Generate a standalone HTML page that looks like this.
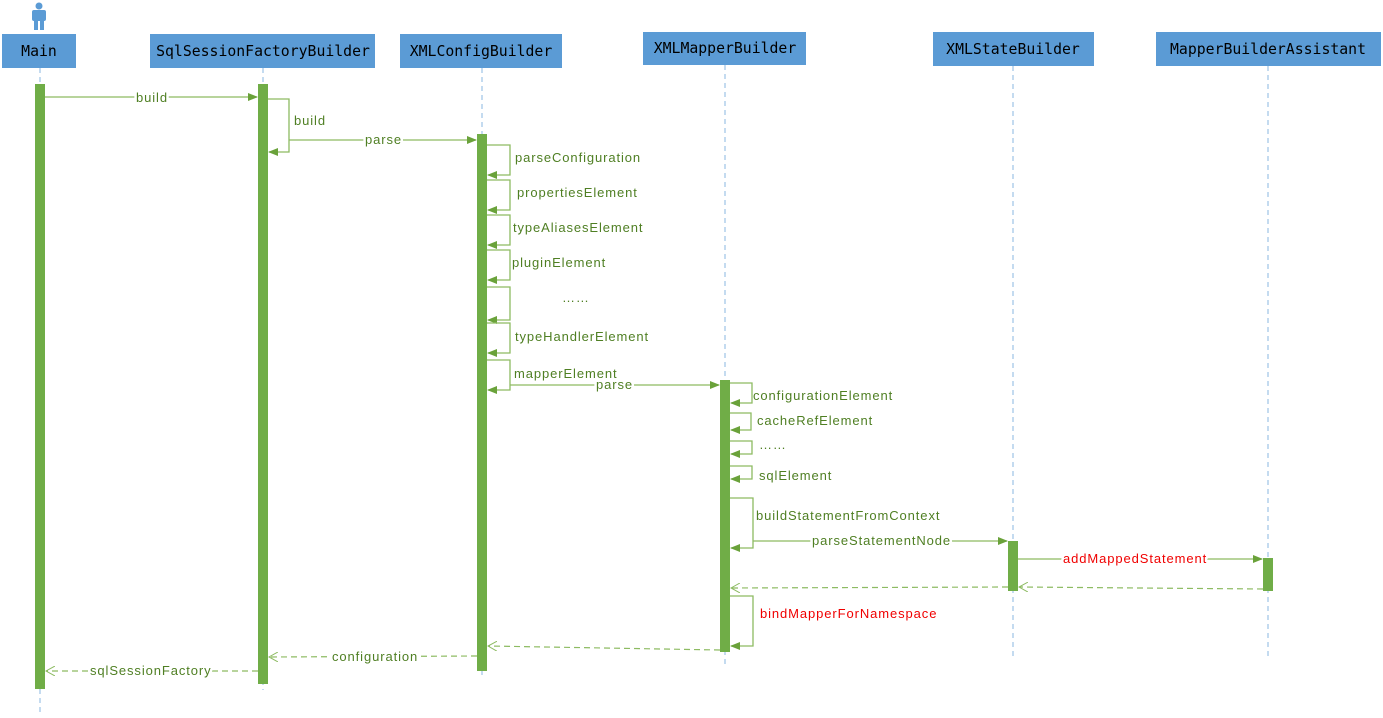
<!DOCTYPE html>
<html><head><meta charset="utf-8"><style>
html,body{margin:0;padding:0;background:#fff;}
svg{display:block;}
.h{font-family:"DejaVu Sans Mono","Liberation Mono",monospace;font-size:14.8px;fill:#000;}
.t{font-family:"Liberation Sans",sans-serif;font-size:13px;letter-spacing:0.9px;fill:#4f7f23;}
.r{font-family:"Liberation Sans",sans-serif;font-size:13px;letter-spacing:0.9px;fill:#f00000;}
.b{stroke:#fff;stroke-width:5px;paint-order:stroke;stroke-linejoin:round;}
</style></head><body>
<svg width="1383" height="718" viewBox="0 0 1383 718" xmlns="http://www.w3.org/2000/svg">
<defs>
<marker id="a" markerWidth="10" markerHeight="8" refX="9" refY="4" orient="auto" markerUnits="userSpaceOnUse"><path d="M0,0 L10,4 L0,8 z" fill="#6aa23a"/></marker>
<marker id="o" markerWidth="10" markerHeight="10" refX="9" refY="5" orient="auto" markerUnits="userSpaceOnUse"><path d="M0,0 L9,5 L0,10" fill="none" stroke="#8dbb62" stroke-width="1"/></marker>
</defs>
<circle cx="39" cy="6" r="3.5" fill="#5b9bd5"/>
<rect x="32" y="10" width="14" height="11" rx="2" fill="#5b9bd5"/>
<rect x="34" y="18" width="4" height="12" fill="#5b9bd5"/>
<rect x="40" y="18" width="4" height="12" fill="#5b9bd5"/>
<g fill="#5b9bd5">
<rect x="2" y="34" width="74" height="34"/>
<rect x="150" y="34" width="225" height="34"/>
<rect x="400" y="34" width="162" height="34"/>
<rect x="643" y="32" width="163" height="33"/>
<rect x="933" y="32" width="161" height="34"/>
<rect x="1156" y="32" width="225" height="34"/>
</g>
<text class="h" x="39" y="56" text-anchor="middle">Main</text>
<text class="h" x="263" y="56" text-anchor="middle">SqlSessionFactoryBuilder</text>
<text class="h" x="481" y="56" text-anchor="middle">XMLConfigBuilder</text>
<text class="h" x="725" y="53" text-anchor="middle">XMLMapperBuilder</text>
<text class="h" x="1013" y="54" text-anchor="middle">XMLStateBuilder</text>
<text class="h" x="1268" y="54" text-anchor="middle">MapperBuilderAssistant</text>
<g stroke="#9dc3e6" stroke-width="1.2" stroke-dasharray="5,4">
<line x1="40" y1="68" x2="40" y2="716"/>
<line x1="263" y1="68" x2="263" y2="690"/>
<line x1="482" y1="68" x2="482" y2="675"/>
<line x1="725" y1="65" x2="725" y2="668"/>
<line x1="1013" y1="66" x2="1013" y2="660"/>
<line x1="1268" y1="66" x2="1268" y2="660"/>
</g>
<g fill="#70ad47">
<rect x="35" y="84" width="10" height="605"/>
<rect x="258" y="84" width="10" height="600"/>
<rect x="477" y="134" width="10" height="537"/>
<rect x="720" y="380" width="10" height="272"/>
<rect x="1008" y="541" width="10" height="50"/>
<rect x="1263" y="558" width="10" height="33"/>
</g>
<g fill="none" stroke="#8dbb62" stroke-width="1.3">
<line x1="45" y1="97" x2="257" y2="97" marker-end="url(#a)"/>
<polyline points="268,99 289,99 289,152 269,152" marker-end="url(#a)"/>
<line x1="289" y1="140" x2="476" y2="140" marker-end="url(#a)"/>
<polyline points="487,145 510,145 510,175 488,175" marker-end="url(#a)"/>
<polyline points="487,180 510,180 510,210 488,210" marker-end="url(#a)"/>
<polyline points="487,215 510,215 510,245 488,245" marker-end="url(#a)"/>
<polyline points="487,250 510,250 510,280 488,280" marker-end="url(#a)"/>
<polyline points="487,287 510,287 510,320 488,320" marker-end="url(#a)"/>
<polyline points="487,323 510,323 510,353 488,353" marker-end="url(#a)"/>
<polyline points="487,360 510,360 510,390 488,390" marker-end="url(#a)"/>
<line x1="510" y1="385" x2="719" y2="385" marker-end="url(#a)"/>
<polyline points="730,383 752,383 752,403 731,403" marker-end="url(#a)"/>
<polyline points="730,413 751,413 751,430 731,430" marker-end="url(#a)"/>
<polyline points="730,441 752,441 752,454 731,454" marker-end="url(#a)"/>
<polyline points="730,466 752,466 752,479 731,479" marker-end="url(#a)"/>
<polyline points="730,498 753,498 753,548 731,548" marker-end="url(#a)"/>
<line x1="753" y1="541" x2="1007" y2="541" marker-end="url(#a)"/>
<line x1="1018" y1="559" x2="1262" y2="559" marker-end="url(#a)"/>
<polyline points="730,596 753,596 753,646 731,646" marker-end="url(#a)"/>
</g>
<g fill="none" stroke="#8dbb62" stroke-width="1.2" stroke-dasharray="6,4">
<line x1="1263" y1="589" x2="1019" y2="587" marker-end="url(#o)"/>
<line x1="1008" y1="587" x2="731" y2="588" marker-end="url(#o)"/>
<line x1="720" y1="650" x2="488" y2="646" marker-end="url(#o)"/>
<line x1="477" y1="656" x2="269" y2="657" marker-end="url(#o)"/>
<line x1="258" y1="671" x2="46" y2="671" marker-end="url(#o)"/>
</g>
<g class="t">
<text class="b" x="136" y="102">build</text>
<text x="294" y="125">build</text>
<text class="b" x="365" y="144">parse</text>
<text x="515" y="162">parseConfiguration</text>
<text x="517" y="197">propertiesElement</text>
<text x="513" y="232">typeAliasesElement</text>
<text x="512" y="267">pluginElement</text>
<text x="562" y="302">……</text>
<text x="515" y="341">typeHandlerElement</text>
<text x="514" y="378">mapperElement</text>
<text class="b" x="596" y="389">parse</text>
<text x="753" y="400">configurationElement</text>
<text x="757" y="425">cacheRefElement</text>
<text x="759" y="449">……</text>
<text x="759" y="480">sqlElement</text>
<text x="756" y="520">buildStatementFromContext</text>
<text class="b" x="812" y="545">parseStatementNode</text>
<text class="b" x="332" y="661">configuration</text>
<text class="b" x="90" y="675">sqlSessionFactory</text>
</g>
<text class="r b" x="1063" y="563">addMappedStatement</text>
<text class="r" x="760" y="618">bindMapperForNamespace</text>
</svg>
</body></html>
